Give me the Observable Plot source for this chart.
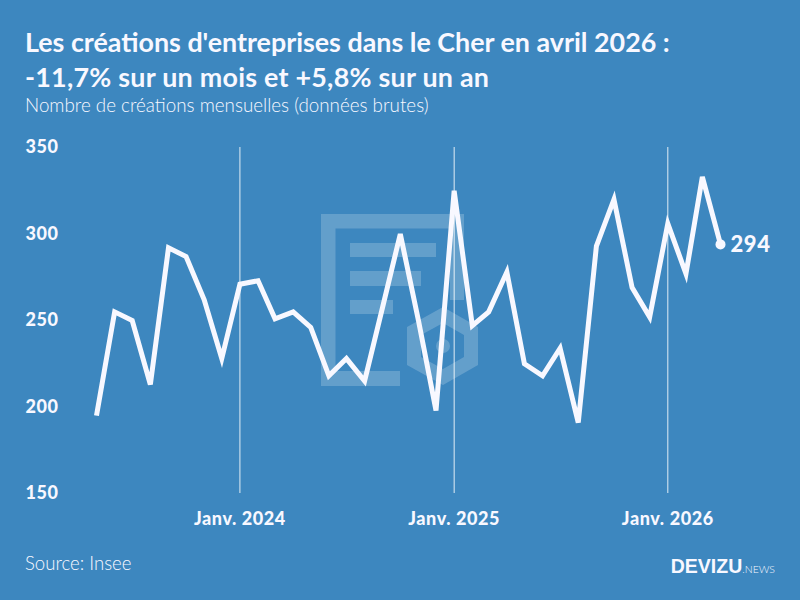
<!DOCTYPE html>
<html lang="fr">
<head>
<meta charset="utf-8">
<script src="https://cdn.jsdelivr.net/npm/d3@7"></script>
<script src="https://cdn.jsdelivr.net/npm/@observablehq/plot@0.6"></script>
<style>
  html,body{margin:0;padding:0;background:#3d87bf;}
  #page{position:relative;width:800px;height:600px;background:#3d87bf;overflow:hidden;color:#f8f8ff;font-family:Lato,sans-serif;}
  #head{height:130px;position:relative;z-index:2;}
  #title{position:absolute;left:25px;top:25px;font-size:26.85px;line-height:34.500px;font-weight:700;white-space:nowrap;}
  #title span{letter-spacing:.25px;}
  #sub{position:absolute;left:25px;top:94px;font-size:18.8px;line-height:22px;font-weight:300;white-space:nowrap;}
  #logo{position:absolute;left:0;top:0;z-index:0;}
  #chart{position:relative;z-index:1;height:400px;}
  #chart svg{background:transparent;display:block;}
  #source{position:absolute;left:25px;top:552px;font-size:18.6px;line-height:22px;font-weight:300;}
  #brand{position:absolute;right:25px;top:553px;white-space:nowrap;line-height:26px;}
  #brand b{font-family:"Liberation Sans",sans-serif;font-size:19.500px;font-weight:700;}
  #brand span{font-size:10.500px;font-weight:300;}
</style>
</head>
<body>
<div id="page">
  <svg id="logo" width="800" height="600" fill="#ffffff" fill-opacity="0.2">
    <path d="M321 214H464V300H450V228.500H335.500V371H400V386H321Z"/>
    <rect x="350" y="243" width="86" height="14"/>
    <rect x="350" y="271" width="71" height="15"/>
    <rect x="350" y="300" width="43" height="14"/>
    <path fill-rule="evenodd" d="M443 307L478 327V365L443 385L407 365V327ZM443 323L421 335V357L443 369L464 357V335Z"/>
    <circle cx="443" cy="346" r="7"/>
  </svg>
  <div id="head">
    <div id="title">Les créations d'entreprises dans le Cher en avril 2026 :<br><span>-11,7% sur un mois et +5,8% sur un an</span></div>
    <div id="sub">Nombre de créations mensuelles (données brutes)</div>
  </div>
  <div id="chart"></div>
  <div id="source">Source: Insee</div>
  <div id="brand"><b>DEVIZU</b><span>.NEWS</span></div>
</div>
<script>
const startYear = 2023, startMonth = 4; // mai 2023
const values = [195,255,250,213,292,287,262,228,271,273,251,255,246,218,228,215,258,300,250,198,325,247,255,278,225,218,234,191,293,320,269,252,306,277,333,294];
const yTicks = [150,200,250,300,350];
const janDates = [new Date(2024,0,1), new Date(2025,0,1), new Date(2026,0,1)];
const janLabels = ["Janv. 2024","Janv. 2025","Janv. 2026"];
const lastLabel = "294";

const data = values.map((v,i)=>({date:new Date(startYear,startMonth+i,1),value:v}));
const last = data[data.length-1];
const ink = "#f8f8ff";

const chart = Plot.plot({
  width:800, height:400,
  marginTop:17, marginBottom:37, marginLeft:96, marginRight:80,
  style:{background:"transparent",color:ink,fontFamily:"Lato,sans-serif",letterSpacing:"0.6px"},
  x:{type:"time",domain:[data[0].date,last.date]},
  y:{domain:[150,350]},
  marks:[
    Plot.ruleX(janDates,{stroke:"#ffffff",strokeWidth:1,strokeOpacity:0.85}),
    Plot.line(data,{x:"date",y:"value",stroke:ink,strokeWidth:5,strokeLinejoin:"miter",strokeMiterlimit:4.5,strokeLinecap:"butt"}),
    Plot.dot([last],{x:"date",y:"value",r:5,fill:ink,stroke:"none"}),
    Plot.text([last],{x:"date",y:"value",text:()=>lastLabel,dx:10,dy:1,textAnchor:"start",fill:ink,fontSize:22,fontWeight:900}),
    Plot.axisY({ticks:yTicks,tickSize:0,tickPadding:71,textAnchor:"start",fontSize:18,fontWeight:900,fill:ink,label:null}),
    Plot.axisX({ticks:janDates,tickFormat:d=>janLabels[janDates.findIndex(j=>+j===+d)],tickSize:0,tickPadding:19,fontSize:18,fontWeight:900,fill:ink,label:null})
  ]
});
document.getElementById("chart").appendChild(chart);
</script>
</body>
</html>
